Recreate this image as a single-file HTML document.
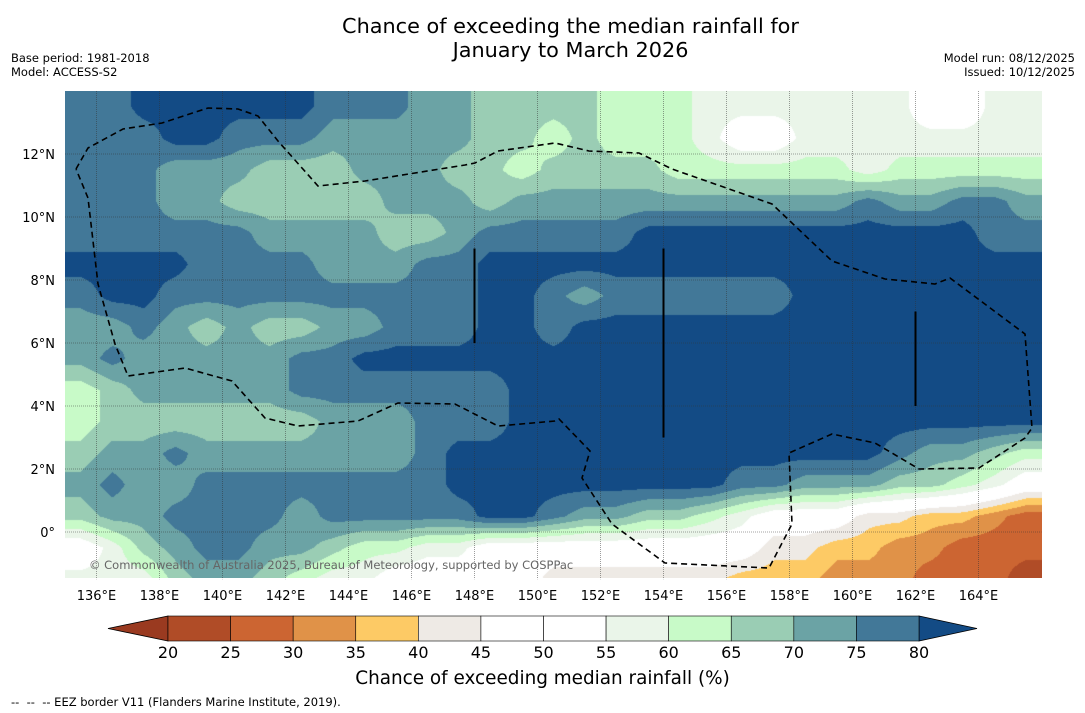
<!DOCTYPE html>
<html><head><meta charset="utf-8">
<style>
body{margin:0;background:#fff;width:1085px;height:713px;overflow:hidden;font-family:"DejaVu Sans","Liberation Sans",sans-serif;}
.t{position:absolute;white-space:nowrap;color:#000;}
</style></head>
<body>
<div class="t" style="left:0;width:1141px;top:14px;text-align:center;font-size:20.8px;line-height:24px;">Chance of exceeding the median rainfall for<br>January to March 2026</div>
<div class="t" style="left:11px;top:51px;font-size:11.5px;line-height:14px;">Base period: 1981-2018<br>Model: ACCESS-S2</div>
<div class="t" style="right:10px;top:51px;font-size:11.5px;line-height:14px;text-align:right;">Model run: 08/12/2025<br>Issued: 10/12/2025</div>
<canvas id="map" width="977" height="487" style="position:absolute;left:65px;top:91px;"></canvas>
<svg id="ov" width="1085" height="713" style="position:absolute;left:0;top:0;"></svg>
<div class="t" style="left:89px;top:558px;font-size:11.5px;color:#666;">© Commonwealth of Australia 2025, Bureau of Meteorology, supported by COSPPac</div>
<div class="t" style="left:0;width:1085px;top:668px;text-align:center;font-size:18.4px;">Chance of exceeding median rainfall (%)</div>
<div class="t" style="left:11px;top:695px;font-size:11.5px;">-- &nbsp;-- &nbsp;-- EEZ border V11 (Flanders Marine Institute, 2019).</div>
<script>
const D=82,B=77,T=72,G=67,L=62,V=57,W=50,E=42,Y=37,O=32,R=27,Q=22;
const lonStart=135, lonEnd=166, latTop=14, latBottom=-1.5;
const row0=[B,B,D,D,D,D,D,D,B,B,B,T,T,G,G,G,G,L,L,L,V,V,V,V,V,V,V,W,W,V,V];
const row1=[B,B,B,D,D,B,B,B,T,T,T,T,T,G,G,L,G,L,L,L,V,W,W,V,V,V,V,V,V,V,V];
const row2=[B,B,B,T,T,T,G,G,G,T,T,T,G,G,L,G,G,G,G,L,L,L,L,L,L,V,L,L,L,L,L];
const row3=[B,B,B,T,T,G,G,G,G,G,T,T,T,G,T,T,T,T,T,T,T,T,T,T,T,B,T,T,B,B,T];
const row4=[B,B,B,B,B,B,T,T,T,T,G,G,T,B,B,B,B,B,D,D,D,D,D,D,D,D,D,D,D,B,B];
const row5=[D,D,D,D,B,B,B,B,T,T,T,B,B,D,D,D,D,D,D,D,D,D,D,D,D,D,D,D,D,D,D];
const row6=[B,D,D,B,B,B,B,B,B,B,B,B,B,D,D,B,T,B,B,B,B,B,B,D,D,D,D,D,D,D,D];
const row7=[T,T,B,T,G,T,G,G,T,T,B,B,B,D,D,B,D,D,D,D,D,D,D,D,D,D,D,D,D,D,D];
const row8=[T,B,T,T,T,T,T,B,B,D,D,D,D,D,D,D,D,D,D,D,D,D,D,D,D,D,D,D,D,D,D];
const row9=[L,G,T,T,T,T,T,B,B,B,B,B,B,B,D,D,D,D,D,D,D,D,D,D,D,D,D,D,D,D,D];
const row10=[L,G,G,G,G,G,G,G,T,T,T,B,B,B,D,D,D,D,D,D,D,D,D,D,D,D,D,D,D,D,D];
const row11=[G,T,T,B,T,T,T,T,T,T,T,B,D,D,D,D,D,D,D,D,D,D,D,D,D,D,B,T,T,G,L];
const row12=[T,B,T,T,B,B,B,B,B,B,B,B,D,D,D,D,D,D,D,D,D,B,B,T,T,T,G,G,L,V,W];
const row13=[G,T,T,B,B,B,B,T,B,B,B,B,B,D,D,B,T,T,G,G,L,V,W,W,W,E,E,Y,Y,O,R];
const row14=[W,V,G,T,B,B,T,T,G,L,L,V,V,W,W,W,W,W,W,W,W,W,E,E,Y,Y,O,O,R,R,R];
const row15=[V,V,V,G,T,T,G,L,V,V,W,W,W,W,W,E,E,E,E,E,E,Y,Y,Y,O,O,O,R,R,R,Q];
const grid=[row0,row1,row2,row3,row4,row5,row6,row7,row8,row9,row10,row11,row12,row13,row14,row15];
const levels=[20,25,30,35,40,45,50,55,60,65,70,75,80];
const binColors=["#9a3a20","#b04c27","#cc6532","#e09248","#fdca65","#eeeae5","#ffffff","#ffffff","#eaf5e9","#c8fac8","#9acdb4","#6ba3a5","#427898","#134b85"];
const lonTicks=[136,138,140,142,144,146,148,150,152,154,156,158,160,162,164];
const latTicks=[0,2,4,6,8,10,12];

const X0=65,Y0=91,PX=31.5;
const xOf=lon=>X0+(lon-lonStart)*PX;
const yOf=lat=>Y0+(latTop-lat)*PX;
function binIndex(v){let i=0;while(i<levels.length&&v>=levels[i])i++;return i;}
function hex(c){return [parseInt(c.slice(1,3),16),parseInt(c.slice(3,5),16),parseInt(c.slice(5,7),16)];}
const rgb=binColors.map(hex);

const cv=document.getElementById('map'),ctx=cv.getContext('2d');
const Wd=cv.width,Ht=cv.height,img=ctx.createImageData(Wd,Ht);
const nr=grid.length,nc=grid[0].length;
for(let py=0;py<Ht;py++){
  const lat=latTop-(py+0.5)/PX;
  let fr=(latTop-lat)-0.5; fr=Math.max(0,Math.min(nr-1,fr));
  const r0=Math.floor(fr),r1=Math.min(nr-1,r0+1),ty=fr-r0;
  for(let px=0;px<Wd;px++){
    const lon=lonStart+(px+0.5)/PX;
    let fc=(lon-lonStart)-0.5; fc=Math.max(0,Math.min(nc-1,fc));
    const c0=Math.floor(fc),c1=Math.min(nc-1,c0+1),tx=fc-c0;
    const v=(grid[r0][c0]*(1-tx)+grid[r0][c1]*tx)*(1-ty)+(grid[r1][c0]*(1-tx)+grid[r1][c1]*tx)*ty;
    const c=rgb[binIndex(v)],k=(py*Wd+px)*4;
    img.data[k]=c[0];img.data[k+1]=c[1];img.data[k+2]=c[2];img.data[k+3]=255;
  }
}
ctx.putImageData(img,0,0);

const NS='http://www.w3.org/2000/svg',svg=document.getElementById('ov');
const FF='DejaVu Sans, Liberation Sans, sans-serif';
function mk(tag,attrs,parent){const e=document.createElementNS(NS,tag);for(const k in attrs)e.setAttribute(k,attrs[k]);(parent||svg).appendChild(e);return e;}
const mapR=xOf(lonEnd),mapB=yOf(latBottom);
lonTicks.forEach(lon=>{
  const l=mk('line',{x1:xOf(lon),x2:xOf(lon),y1:Y0,y2:mapB,stroke:'#333','stroke-width':0.8,'stroke-dasharray':'1,1','stroke-opacity':0.6});
  
  
  const t=mk('text',{x:xOf(lon),y:600,'text-anchor':'middle','font-size':13,'font-family':FF});
  t.textContent=lon+'°E';
  
  
});
latTicks.forEach(lat=>{
  const l=mk('line',{x1:X0,x2:mapR,y1:yOf(lat),y2:yOf(lat),stroke:'#333','stroke-width':0.8,'stroke-dasharray':'1,1','stroke-opacity':0.6});
  
  
  const t=mk('text',{x:55,y:yOf(lat)+5,'text-anchor':'end','font-size':13,'font-family':FF});
  t.textContent=lat===0?'0°':lat+'°N';
  
  
});
const eez=[[76,169],[88,148],[123,129],[162,123],[208,108],[238,109],[258,116],[278,141],[318,186],[365,181],[465,165],[475,163],[498,151],[555,143],[589,151],[639,153],[672,169],[772,204],[832,261],[885,279],[935,284],[950,278],[1025,334],[1032,428],[1025,438],[979,468],[919,469],[875,443],[832,434],[789,453],[792,524],[769,568],[665,563],[612,524],[582,478],[590,451],[559,419],[555,421],[498,426],[455,404],[398,403],[358,421],[298,426],[265,418],[232,381],[185,368],[128,376],[115,344],[98,284],[88,198],[76,169]];
const pe=mk('polyline',{points:eez.map(p=>p.join(',')).join(' '),fill:'none',stroke:'#000','stroke-width':1.6,'stroke-dasharray':'6,4'});


[[148,9,6],[154,9,3],[162,7,4]].forEach(s=>{
  const l=mk('line',{x1:xOf(s[0]),x2:xOf(s[0]),y1:yOf(s[1]),y2:yOf(s[2]),stroke:'#000','stroke-width':2});
  
  
});
const cbL=168,cbR=919,cbT=616,cbB=641,cw=(cbR-cbL)/(levels.length-1);
const lt=mk('polygon',{points:`${cbL},${cbT} ${cbL},${cbB} 108,${(cbT+cbB)/2}`,fill:binColors[0],stroke:'#000','stroke-width':0.8});


const rt=mk('polygon',{points:`${cbR},${cbT} ${cbR},${cbB} 977,${(cbT+cbB)/2}`,fill:binColors[binColors.length-1],stroke:'#000','stroke-width':0.8});


for(let i=0;i<levels.length-1;i++){
  const r=mk('rect',{x:cbL+i*cw,y:cbT,width:cw,height:cbB-cbT,fill:binColors[i+1],stroke:'#000','stroke-width':0.6});
  
  
}
levels.forEach((v,i)=>{
  const t=mk('text',{x:cbL+i*cw,y:658,'text-anchor':'middle','font-size':16,'font-family':FF});
  t.textContent=v;
  
  
});
</script>
</body></html>
